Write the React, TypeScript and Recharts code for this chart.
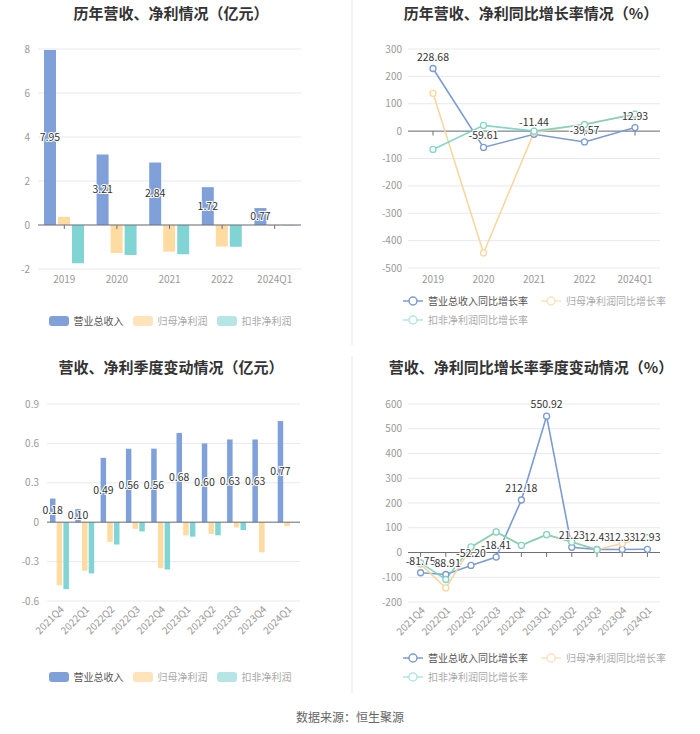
import React from "react"
import {
  Bar,
  BarChart,
  CartesianGrid,
  LabelList,
  Legend,
  Line,
  LineChart,
  ReferenceLine,
  XAxis,
  YAxis,
} from "recharts"

// yearly, 亿元
const years = ["2019", "2020", "2021", "2022", "2024Q1"]
const yearRevenue = [7.95, 3.21, 2.84, 1.72, 0.77]
const yearNetProfit = [0.37, -1.27, -1.21, -0.98, -0.03]
const yearDeducted = [-1.74, -1.36, -1.33, -0.99, -0.02]
const yearTicks = [-2, 0, 2, 4, 6, 8]

// yearly growth, %
const yearRevenueGrowth = [228.68, -59.61, -11.44, -39.57, 12.93]
const yearNetGrowth = [138, -445, -5, 25, 62]
const yearDeductedGrowth = [-67, 21, 0, 24, 62]
const yearGrowthTicks = [-500, -400, -300, -200, -100, 0, 100, 200, 300]

// quarterly, 亿元
const quarters = ["2021Q4", "2022Q1", "2022Q2", "2022Q3", "2022Q4", "2023Q1", "2023Q2", "2023Q3", "2023Q4", "2024Q1"]
const qRevenue = [0.18, 0.1, 0.49, 0.56, 0.56, 0.68, 0.6, 0.63, 0.63, 0.77]
const qNetProfit = [-0.48, -0.37, -0.15, -0.05, -0.35, -0.1, -0.09, -0.04, -0.23, -0.03]
const qDeducted = [-0.51, -0.39, -0.17, -0.07, -0.36, -0.11, -0.1, -0.06, null, null]
const qTicks = [-0.6, -0.3, 0, 0.3, 0.6, 0.9]

// quarterly growth, %
const qRevenueGrowth = [-81.75, -88.91, -52.2, -18.41, 212.18, 550.92, 21.23, 12.43, 12.33, 12.93]
const qNetGrowth = [-47, -143, 20, 83, 29, 72, 42, 11, 36, 60]
const qDeductedGrowth = [-42, -109, 23, 83, 29, 72, 42, 11, null, 60]
const qGrowthTicks = [-200, -100, 0, 100, 200, 300, 400, 500, 600]

const barNames = ["营业总收入", "归母净利润", "扣非净利润"]
const lineNames = ["营业总收入同比增长率", "归母净利润同比增长率", "扣非净利润同比增长率"]

const FONT = "'Noto Sans CJK SC', 'Noto Sans', sans-serif"
const BLUE = "#7FA0D9"
const ORANGE = "#FDDBA1"
const TEAL = "#80D5D4"
const BLUE_LINE = "#7C9BD2"
const ORANGE_LINE = "#F9D6A0"
const TEAL_LINE = "#6FCFBF"
const GRID = "#E6E9F0"
const AXIS = "#6E7079"
const TICK = { fontSize: 10, fill: "#999", fontFamily: FONT }

const barLegendFills = [BLUE, "#FFE3BA", "#B6E5E5"]
const lineLegendColors = [BLUE_LINE, "#FBE2BE", "#B2E6E0"]

const yearBars = years.map((name, i) => ({
  name,
  revenue: yearRevenue[i],
  net: yearNetProfit[i],
  deducted: yearDeducted[i],
}))
const yearLines = years.map((name, i) => ({
  name,
  revenue: yearRevenueGrowth[i],
  net: yearNetGrowth[i],
  deducted: yearDeductedGrowth[i],
}))
const quarterBars = quarters.map((name, i) => ({
  name,
  revenue: qRevenue[i],
  net: qNetProfit[i],
  deducted: qDeducted[i],
}))
const quarterLines = quarters.map((name, i) => ({
  name,
  revenue: qRevenueGrowth[i],
  net: qNetGrowth[i],
  deducted: qDeductedGrowth[i],
}))

function BarValueLabel(props: any) {
  const vb = props.viewBox ?? props
  const { x, y, width = 0, height = 0 } = vb
  if (props.value == null) return null
  return (
    <text
      x={x + width / 2}
      y={y + height / 2}
      dy="0.35em"
      textAnchor="middle"
      fontSize={10.5}
      fontFamily={FONT}
      fill="#333"
      stroke="#fff"
      strokeWidth={2}
      paintOrder="stroke"
    >
      {Number(props.value).toFixed(2)}
    </text>
  )
}

function PointLabel(props: any) {
  const vb = props.viewBox ?? props
  if (props.value == null) return null
  return (
    <text
      x={vb.x}
      y={vb.y - 8}
      textAnchor="middle"
      fontSize={10.5}
      fontFamily={FONT}
      fill="#333"
      stroke="#fff"
      strokeWidth={2}
      paintOrder="stroke"
    >
      {Number(props.value).toFixed(2)}
    </text>
  )
}

function BarLegend() {
  return (
    <div style={{ display: "flex", justifyContent: "center", fontFamily: FONT }}>
      {barNames.map((n, i) => (
        <span key={n} style={{ display: "inline-flex", alignItems: "center", marginRight: i < 2 ? 9 : 0 }}>
          <span style={{ width: 20, height: 10, borderRadius: 3, background: barLegendFills[i] }} />
          <span style={{ marginLeft: 5, fontSize: 10, lineHeight: "14px", color: i === 0 ? "#555" : "#aaa" }}>{n}</span>
        </span>
      ))}
    </div>
  )
}

function LineLegend() {
  return (
    <div style={{ display: "flex", flexWrap: "wrap", rowGap: 5, fontFamily: FONT }}>
      {lineNames.map((n, i) => (
        <span key={n} style={{ display: "inline-flex", alignItems: "center", marginRight: 13 }}>
          <svg width={20} height={10}>
            <line x1={0} y1={5} x2={20} y2={5} stroke={lineLegendColors[i]} strokeWidth={1.5} />
            <circle cx={10} cy={5} r={4} fill="#fff" stroke={lineLegendColors[i]} strokeWidth={1.5} />
          </svg>
          <span style={{ marginLeft: 5, fontSize: 10, lineHeight: "14px", color: i === 0 ? "#555" : "#aaa" }}>{n}</span>
        </span>
      ))}
    </div>
  )
}

function Title({ text, left, top, width }: { text: string; left: number; top: number; width: number }) {
  return (
    <div
      style={{
        position: "absolute",
        left,
        top,
        width,
        textAlign: "center",
        fontSize: 15,
        fontWeight: 700,
        lineHeight: "20px",
        color: "#333",
        fontFamily: FONT,
        whiteSpace: "nowrap",
      }}
    >
      {text}
    </div>
  )
}

function zeroTicks(cats: string[], len: number) {
  return cats.map((c) => (
    <ReferenceLine key={"t" + c} segment={[{ x: c, y: 0 }, { x: c, y: -len }]} stroke={AXIS} />
  ))
}

export default function App() {
  return (
    <div
      style={{
        position: "absolute",
        left: 0,
        top: 0,
        width: 700,
        height: 734,
        background: "#fff",
        fontFamily: FONT,
        overflow: "hidden",
      }}
    >
      <div style={{ position: "absolute", left: 351, top: 0, width: 2, height: 345, background: "#F2F2F2" }} />
      <div style={{ position: "absolute", left: 351, top: 356, width: 2, height: 337, background: "#F2F2F2" }} />

      {/* top left */}
      <div style={{ position: "absolute", left: 0, top: 0, width: 350, height: 345 }}>
        <BarChart
          width={350}
          height={345}
          data={yearBars}
          margin={{ top: 49, right: 49, bottom: 56, left: 0 }}
          barSize={12}
          barGap={2}
        >
          <CartesianGrid vertical={false} stroke={GRID} />
          <XAxis dataKey="name" height={20} tick={TICK} tickSize={0} tickMargin={7} axisLine={false} tickLine={false} />
          <YAxis
            width={38}
            domain={[-2, 8]}
            ticks={yearTicks}
            tick={TICK}
            tickSize={0}
            tickMargin={8}
            axisLine={false}
            tickLine={false}
          />
          <Bar dataKey="revenue" name={barNames[0]} fill={BLUE} isAnimationActive={false}>
            <LabelList dataKey="revenue" content={<BarValueLabel />} />
          </Bar>
          <Bar dataKey="net" name={barNames[1]} fill={ORANGE} isAnimationActive={false} />
          <Bar dataKey="deducted" name={barNames[2]} fill={TEAL} isAnimationActive={false} />
          <ReferenceLine y={0} stroke={AXIS} />
          {zeroTicks(years, 0.18)}
          <Legend
            layout="horizontal"
            verticalAlign="middle"
            align="center"
            wrapperStyle={{ top: 314, left: 0, width: 340 }}
            content={() => <BarLegend />}
          />
        </BarChart>
        <Title text="历年营收、净利情况（亿元）" left={0} top={3} width={342} />
      </div>

      {/* top right */}
      <div style={{ position: "absolute", left: 350, top: 0, width: 350, height: 345 }}>
        <LineChart width={350} height={345} data={yearLines} margin={{ top: 49, right: 40, bottom: 57, left: 0 }}>
          <CartesianGrid vertical={false} stroke={GRID} />
          <XAxis
            dataKey="name"
            height={20}
            padding={{ left: 25, right: 25 }}
            tick={TICK}
            tickSize={0}
            tickMargin={8}
            axisLine={false}
            tickLine={false}
          />
          <YAxis
            width={58}
            domain={[-500, 300]}
            ticks={yearGrowthTicks}
            tick={TICK}
            tickSize={0}
            tickMargin={6}
            axisLine={false}
            tickLine={false}
          />
          <ReferenceLine y={0} stroke={AXIS} />
          {zeroTicks(years, 16)}
          <Line
            dataKey="revenue"
            name={lineNames[0]}
            stroke={BLUE_LINE}
            strokeWidth={1.6}
            dot={{ r: 3, fill: "#fff", stroke: BLUE_LINE, strokeWidth: 1.3 }}
            activeDot={false}
            isAnimationActive={false}
          >
            <LabelList dataKey="revenue" content={<PointLabel />} />
          </Line>
          <Line
            dataKey="net"
            name={lineNames[1]}
            stroke={ORANGE_LINE}
            strokeWidth={1.6}
            dot={{ r: 3, fill: "#fff", stroke: ORANGE_LINE, strokeWidth: 1.3 }}
            activeDot={false}
            isAnimationActive={false}
          />
          <Line
            dataKey="deducted"
            name={lineNames[2]}
            stroke={TEAL_LINE}
            strokeOpacity={0.85}
            strokeWidth={1.6}
            dot={{ r: 3, fill: "#fff", stroke: TEAL_LINE, strokeWidth: 1.3 }}
            activeDot={false}
            isAnimationActive={false}
          />
          <Legend
            layout="horizontal"
            verticalAlign="middle"
            align="center"
            wrapperStyle={{ top: 294, left: 53, width: 295 }}
            content={() => <LineLegend />}
          />
        </LineChart>
        <Title text="历年营收、净利同比增长率情况（%）" left={6} top={3} width={350} />
      </div>

      {/* bottom left */}
      <div style={{ position: "absolute", left: 0, top: 350, width: 350, height: 345 }}>
        <BarChart
          width={350}
          height={345}
          data={quarterBars}
          margin={{ top: 54, right: 50, bottom: 34, left: 0 }}
          barSize={5.5}
          barGap={1.2}
        >
          <CartesianGrid vertical={false} stroke={GRID} />
          <XAxis
            dataKey="name"
            height={60}
            interval={0}
            angle={-45}
            textAnchor="end"
            tick={TICK}
            tickSize={0}
            tickMargin={4}
            axisLine={false}
            tickLine={false}
          />
          <YAxis
            width={47}
            domain={[-0.6, 0.9]}
            ticks={qTicks}
            tick={TICK}
            tickSize={0}
            tickMargin={8}
            axisLine={false}
            tickLine={false}
          />
          <Bar dataKey="revenue" name={barNames[0]} fill={BLUE} isAnimationActive={false}>
            <LabelList dataKey="revenue" content={<BarValueLabel />} />
          </Bar>
          <Bar dataKey="net" name={barNames[1]} fill={ORANGE} isAnimationActive={false} />
          <Bar dataKey="deducted" name={barNames[2]} fill={TEAL} isAnimationActive={false} />
          <ReferenceLine y={0} stroke={AXIS} />
          <Legend
            layout="horizontal"
            verticalAlign="middle"
            align="center"
            wrapperStyle={{ top: 320, left: 0, width: 340 }}
            content={() => <BarLegend />}
          />
        </BarChart>
        <Title text="营收、净利季度变动情况（亿元）" left={0} top={7} width={342} />
      </div>

      {/* bottom right */}
      <div style={{ position: "absolute", left: 350, top: 350, width: 350, height: 345 }}>
        <LineChart width={350} height={345} data={quarterLines} margin={{ top: 54, right: 40, bottom: 33, left: 0 }}>
          <CartesianGrid vertical={false} stroke={GRID} />
          <XAxis
            dataKey="name"
            height={60}
            interval={0}
            angle={-45}
            textAnchor="end"
            padding={{ left: 12.6, right: 12.6 }}
            tick={TICK}
            tickSize={0}
            tickMargin={4}
            axisLine={false}
            tickLine={false}
          />
          <YAxis
            width={58}
            domain={[-200, 600]}
            ticks={qGrowthTicks}
            tick={TICK}
            tickSize={0}
            tickMargin={6}
            axisLine={false}
            tickLine={false}
          />
          <ReferenceLine y={0} stroke={AXIS} />
          {zeroTicks(quarters, 18)}
          <Line
            dataKey="revenue"
            name={lineNames[0]}
            stroke={BLUE_LINE}
            strokeWidth={1.6}
            dot={{ r: 3, fill: "#fff", stroke: BLUE_LINE, strokeWidth: 1.3 }}
            activeDot={false}
            isAnimationActive={false}
          >
            <LabelList dataKey="revenue" content={<PointLabel />} />
          </Line>
          <Line
            dataKey="net"
            name={lineNames[1]}
            stroke={ORANGE_LINE}
            strokeWidth={1.6}
            dot={{ r: 3, fill: "#fff", stroke: ORANGE_LINE, strokeWidth: 1.3 }}
            activeDot={false}
            isAnimationActive={false}
          />
          <Line
            dataKey="deducted"
            name={lineNames[2]}
            stroke={TEAL_LINE}
            strokeOpacity={0.85}
            strokeWidth={1.6}
            dot={{ r: 3, fill: "#fff", stroke: TEAL_LINE, strokeWidth: 1.3 }}
            activeDot={false}
            isAnimationActive={false}
          />
          <Legend
            layout="horizontal"
            verticalAlign="middle"
            align="center"
            wrapperStyle={{ top: 301, left: 53, width: 295 }}
            content={() => <LineLegend />}
          />
        </LineChart>
        <Title text="营收、净利同比增长率季度变动情况（%）" left={6} top={7} width={350} />
      </div>

      <div
        style={{
          position: "absolute",
          left: 0,
          top: 709,
          width: 700,
          textAlign: "center",
          fontSize: 12,
          lineHeight: "16px",
          color: "#666",
          fontFamily: FONT,
        }}
      >
        数据来源：恒生聚源
      </div>
    </div>
  )
}
